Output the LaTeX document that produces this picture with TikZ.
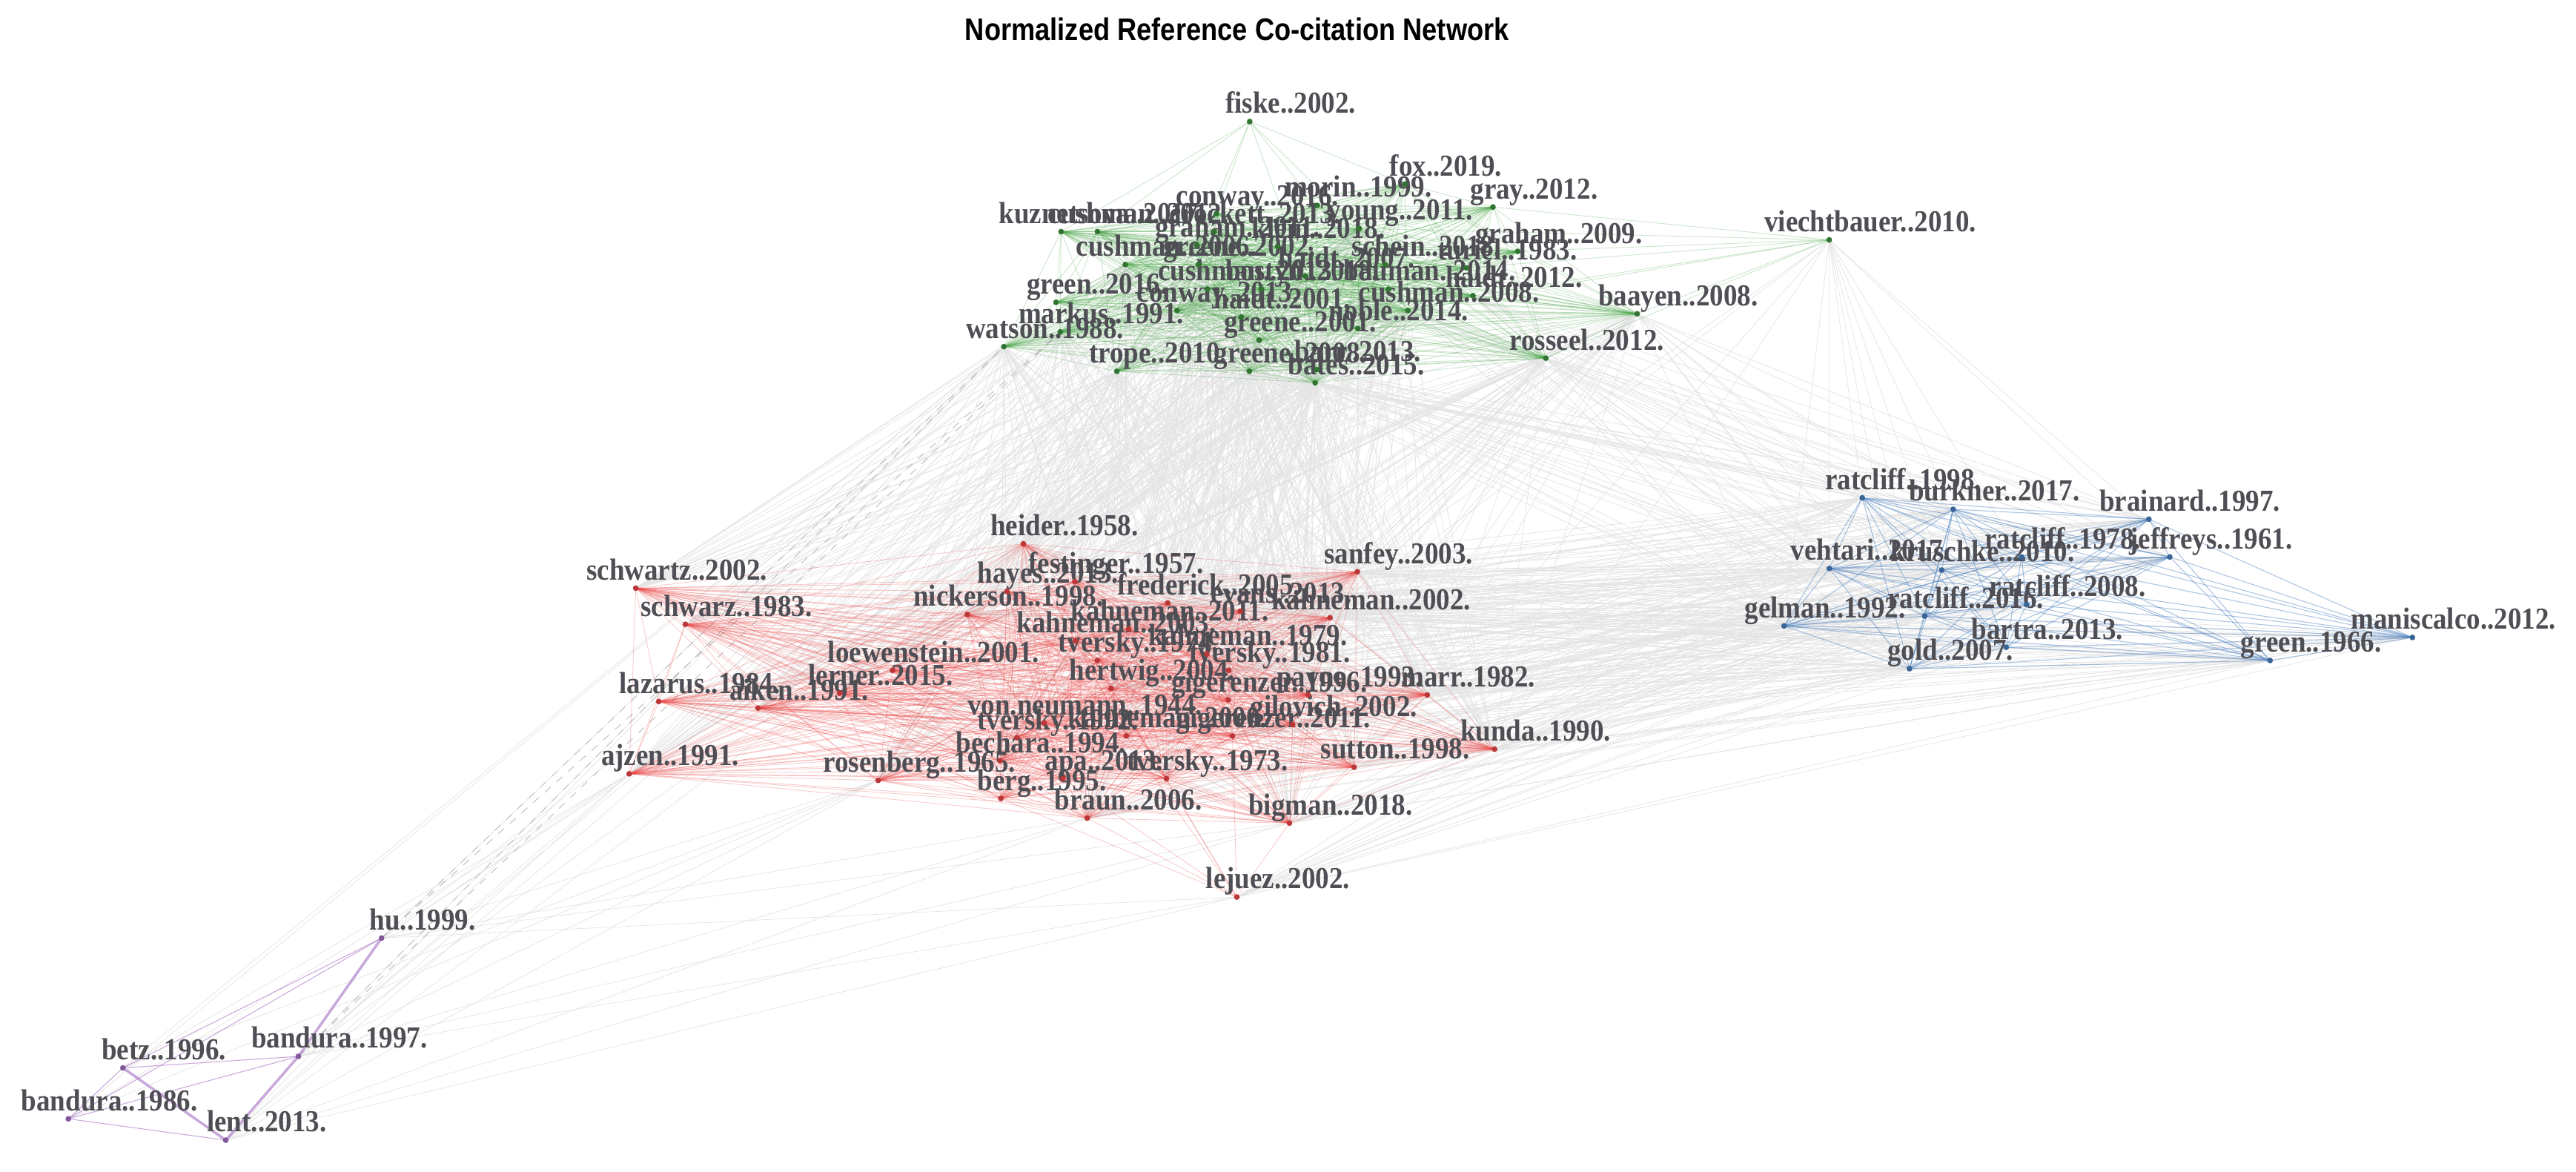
\documentclass[tikz,border=0pt]{standalone}
\usepackage{fontspec}
\usetikzlibrary{calc}
\newfontfamily\lblfont[FakeStretch=0.9]{Liberation Serif}
\newfontfamily\ttlfont[FakeStretch=0.86]{Liberation Sans}
\definecolor{lblC}{RGB}{78,78,84}
\definecolor{gC}{RGB}{70,165,70}
\definecolor{rC}{RGB}{235,70,70}
\definecolor{bC}{RGB}{70,125,190}
\definecolor{pC}{RGB}{165,110,195}
\definecolor{gyC}{RGB}{228,228,228}
\pgfdeclarelayer{bg}
\pgfsetlayers{bg,main}
\tikzset{
  lbl/.style={font=\lblfont\bfseries\fontsize{11.7}{13}\selectfont, text=lblC, inner sep=0pt, outer sep=0pt},
  ge/.style={draw=gC, opacity=0.28, line width=0.25pt},
  re/.style={draw=rC, opacity=0.28, line width=0.25pt},
  be/.style={draw=bC, opacity=0.45, line width=0.3pt},
  pe/.style={draw=pC, opacity=0.6, line width=0.3pt},
  pthick/.style={draw=pC, opacity=0.6, line width=1pt},
  gye/.style={draw=gyC, line width=0.2pt},
  gyd/.style={draw=gyC!85!black, line width=0.3pt, dashed},
}
\newcommand\nd[4]{\node[lbl,anchor=base west] (#1l) at (#2,#3) {#4};
  \coordinate (#1) at ($(#1l.base)+(-25,5)$);}
\newcommand\clique[2]{\foreach \a [count=\i] in {#2}{\foreach \b [count=\j] in {#2}{\ifnum\i<\j \draw[#1] (\a)--(\b);\fi}}}
\newcommand\bip[3]{\foreach \a in {#2}{\foreach \b in {#3}{\draw[#1] (\a)--(\b);}}}
\newcommand\ndots[2]{\foreach \n in {#2}{\fill[#1] (\n) circle (1.1pt);}}
\begin{document}
\begin{tikzpicture}[x=0.02216cm,y=-0.02216cm]
\useasboundingbox (0,0) rectangle (1568,713);
\node[font=\ttlfont\bfseries\fontsize{12}{14}\selectfont] (title) at (753,18) {Normalized Reference Co-citation Network};
% ---------- green cluster
\nd{fiske}{746}{69}{fiske..2002.}
\nd{fox}{846}{107}{fox..2019.}
\nd{morin}{782}{120}{morin..1999.}
\nd{conwayA}{716}{125}{conway..2016.}
\nd{gray}{895}{121}{gray..2012.}
\nd{kuzn}{608}{136}{kuznetsova..2017.}
\nd{cushA}{638}{136}{cushman..2012.}
\nd{crock}{712}{136}{crockett..2013.}
\nd{young}{808}{134}{young..2011.}
\nd{grahamA}{703}{144}{graham..2011.}
\nd{klein}{762}{145}{klein..2018.}
\nd{cushB}{655}{156}{cushman..2006.}
\nd{greeneC}{708}{156}{greene..2002.}
\nd{schein}{823}{156}{schein..2018.}
\nd{grahamB}{898}{148}{graham..2009.}
\nd{turiel}{875}{158}{turiel..1983.}
\nd{haidtA}{778}{163}{haidt..2007.}
\nd{cushC}{705}{171}{cushman..2013.}
\nd{bostyn}{746}{171}{bostyn..2018.}
\nd{bauman}{818}{171}{bauman..2014.}
\nd{haidtB}{880}{175}{haidt..2012.}
\nd{greenA}{625}{179}{green..2016.}
\nd{conwayB}{692}{184}{conway..2013.}
\nd{haidtC}{739}{188}{haidt..2001.}
\nd{cushD}{827}{184}{cushman..2008.}
\nd{markus}{620}{197}{markus..1991.}
\nd{xle}{809}{195}{noble..2014.}
\nd{greeneA}{745}{202}{greene..2001.}
\nd{watson}{588}{206}{watson..1988.}
\nd{baayen}{973}{186}{baayen..2008.}
\nd{rosseel}{919}{213}{rosseel..2012.}
\nd{trope}{663}{221}{trope..2010.}
\nd{greeneB}{739}{221}{greene..2008.}
\nd{barr}{788}{220}{barr..2013.}
\nd{bates}{784}{228}{bates..2015.}
\nd{viech}{1074}{141}{viechtbauer..2010.}
% ---------- red cluster
\nd{heider}{603}{326}{heider..1958.}
\nd{festinger}{626}{349}{festinger..1957.}
\nd{hayes}{595}{355}{hayes..2013.}
\nd{sanfey}{806}{343}{sanfey..2003.}
\nd{frederick}{680}{362}{frederick..2005.}
\nd{evans}{737}{367}{evans..2013.}
\nd{kahnA}{774}{371}{kahneman..2002.}
\nd{nickerson}{556}{369}{nickerson..1998.}
\nd{kahnB}{652}{378}{kahneman..2011.}
\nd{kahnC}{619}{385}{kahneman..2003.}
\nd{kahnD}{699}{393}{kahneman..1979.}
\nd{tverA}{644}{397}{tversky..1974.}
\nd{tverB}{724}{403}{tversky..1981.}
\nd{loew}{504}{403}{loewenstein..2001.}
\nd{lerner}{492}{417}{lerner..2015.}
\nd{hertwig}{651}{414}{hertwig..2004.}
\nd{gigA}{713}{421}{gigerenzer..1996.}
\nd{payne}{777}{418}{payne..1993.}
\nd{marr}{853}{418}{marr..1982.}
\nd{lazarus}{377}{422}{lazarus..1984.}
\nd{aiken}{444}{426}{aiken..1991.}
\nd{vonneu}{589}{435}{von.neumann..1944.}
\nd{gilovich}{761}{436}{gilovich..2002.}
\nd{tverC}{595}{444}{tversky..1992.}
\nd{kahnE}{650}{443}{kahneman..2000.}
\nd{gigB}{716}{443}{gigerenzer..2011.}
\nd{kunda}{889}{451}{kunda..1990.}
\nd{bechara}{582}{458}{bechara..1994.}
\nd{sutton}{804}{462}{sutton..1998.}
\nd{ajzen}{366}{466}{ajzen..1991.}
\nd{rosenberg}{501}{470}{rosenberg..1965.}
\nd{apa}{636}{469}{apa..2013.}
\nd{tverD}{686}{469}{tversky..1973.}
\nd{berg}{595}{481}{berg..1995.}
\nd{braun}{642}{493}{braun..2006.}
\nd{bigman}{760}{496}{bigman..2018.}
\nd{lejuez}{734}{541}{lejuez..2002.}
\nd{schwartz}{357}{353}{schwartz..2002.}
\nd{schwarz}{390}{375}{schwarz..1983.}
% ---------- blue cluster
\nd{ratA}{1111}{298}{ratcliff..1998.}
\nd{burkner}{1162}{305}{burkner..2017.}
\nd{brainard}{1278}{311}{brainard..1997.}
\nd{ratB}{1208}{334}{ratcliff..1978.}
\nd{jeffreys}{1296}{334}{jeffreys..1961.}
\nd{vehtari}{1090}{341}{vehtari..2017.}
\nd{kruschke}{1151}{342}{kruschke..2010.}
\nd{ratC}{1211}{363}{ratcliff..2008.}
\nd{ratD}{1149}{370}{ratcliff..2016.}
\nd{gelman}{1062}{376}{gelman..1992.}
\nd{bartra}{1200}{389}{bartra..2013.}
\nd{manis}{1431}{383}{maniscalco..2012.}
\nd{greenB}{1364}{397}{green..1966.}
\nd{gold}{1149}{402}{gold..2007.}
% ---------- purple cluster
\nd{hu}{225}{566}{hu..1999.}
\nd{betz}{62}{645}{betz..1996.}
\nd{banA}{153}{638}{bandura..1997.}
\nd{banB}{13}{676}{bandura..1986.}
\nd{lent}{126}{689}{lent..2013.}
% ---------- edges
\begin{pgfonlayer}{bg}
\fill[white] (0,0) rectangle (1568,713);
% gray inter-cluster
\bip{gye}{conwayA,young,cushB,greeneC,haidtA,cushC,bauman,haidtC,greeneA,watson,trope,greeneB,barr,bates,rosseel,baayen,markus,cushD}{heider,festinger,hayes,sanfey,frederick,kahnA,nickerson,kahnB,kahnD,tverB,loew,lerner,hertwig,gigA,payne,marr,aiken,gilovich,kahnE,kunda,bechara,sutton,rosenberg,tverD,braun,bigman,schwartz,schwarz,ajzen}
\bip{gye}{ratA,burkner,brainard,ratB,jeffreys,vehtari,kruschke,ratC,ratD,gelman,bartra,manis,greenB,gold}{sanfey,kahnA,evans,frederick,kahnB,tverB,payne,marr,gilovich,kunda,sutton,bigman,hertwig,gigB,nickerson,festinger,lejuez,braun}
\bip{gye}{ratA,burkner,ratB,vehtari,kruschke,gelman,ratD,gold,jeffreys,brainard}{viech,baayen,rosseel,bates,barr,greeneB,haidtB,cushD}
\bip{gye}{hu,banA,lent}{watson,trope,greeneB,ajzen,rosenberg,braun,lejuez,bigman}
\bip{gye}{betz,banB}{watson,ajzen,rosenberg}
\bip{gye}{viech}{sanfey,kahnA,marr,kunda}
\bip{gyd}{hu,banA}{watson,markus}
% green
\clique{ge}{kuzn,cushA,crock,young,grahamA,klein,cushB,greeneC,schein,grahamB,turiel,haidtA,cushC,bostyn,bauman,haidtB,greenA,conwayB,haidtC,cushD,markus,xle,greeneA,watson,baayen,rosseel,trope,greeneB,barr,bates,gray,morin,conwayA,fox}
\bip{ge}{fiske}{cushA,conwayA,morin,grahamA,haidtA,young,fox,kuzn}
\bip{ge}{viech}{gray,grahamB,turiel,haidtB,baayen,rosseel,cushD,young}
% red
\clique{re}{heider,festinger,hayes,sanfey,frederick,evans,kahnA,nickerson,kahnB,kahnC,kahnD,tverA,tverB,loew,lerner,hertwig,gigA,payne,marr,lazarus,aiken,vonneu,gilovich,tverC,kahnE,gigB,kunda,bechara,sutton,ajzen,rosenberg,apa,tverD,berg,braun,bigman,schwartz,schwarz}
\bip{re}{lejuez}{braun,tverD,bigman,apa,gigB,kahnE,berg,hertwig}
% blue
\clique{be}{ratA,burkner,brainard,ratB,jeffreys,vehtari,kruschke,ratC,ratD,gelman,bartra,manis,greenB,gold}
% purple
\draw[pthick] (hu)--(banA);
\draw[pthick] (banA)--(lent);
\draw[pthick] (betz)--(lent);
\bip{pe}{betz}{banA,banB,hu}
\bip{pe}{banB}{lent,banA,hu}
\end{pgfonlayer}
% ---------- dots
\ndots{gC!70!black}{fiske,fox,morin,conwayA,gray,kuzn,cushA,crock,young,grahamA,klein,cushB,greeneC,schein,grahamB,turiel,haidtA,cushC,bostyn,bauman,haidtB,greenA,conwayB,haidtC,cushD,markus,xle,greeneA,watson,baayen,rosseel,trope,greeneB,barr,bates,viech}
\ndots{rC!80!black}{heider,festinger,hayes,sanfey,frederick,evans,kahnA,nickerson,kahnB,kahnC,kahnD,tverA,tverB,loew,lerner,hertwig,gigA,payne,marr,lazarus,aiken,vonneu,gilovich,tverC,kahnE,gigB,kunda,bechara,sutton,ajzen,rosenberg,apa,tverD,berg,braun,bigman,lejuez,schwartz,schwarz}
\ndots{bC!80!black}{ratA,burkner,brainard,ratB,jeffreys,vehtari,kruschke,ratC,ratD,gelman,bartra,manis,greenB,gold}
\ndots{pC!80!black}{hu,betz,banA,banB,lent}
\end{tikzpicture}
\end{document}
